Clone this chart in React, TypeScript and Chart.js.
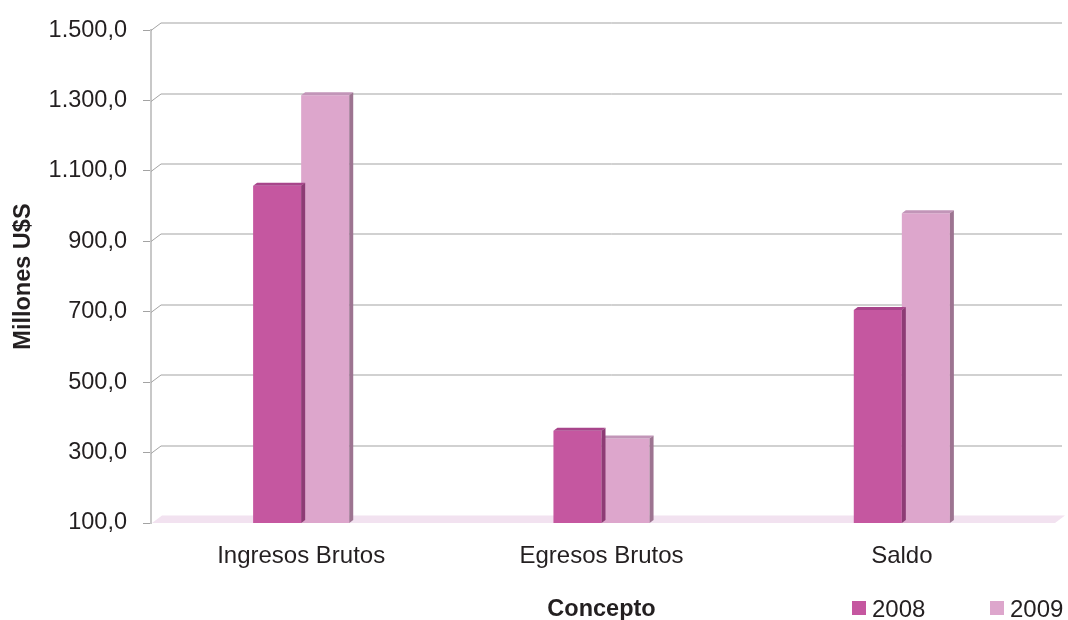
import React, { useEffect, useRef } from "react";
import { Chart, registerables } from "chart.js";

Chart.register(...registerables);

const categories = ["Ingresos Brutos", "Egresos Brutos", "Saldo"];
const seriesLabels = ["2008", "2009"];
const values2008 = [1058, 362, 705];
const values2009 = [1315, 340, 980];
const yMin = 100;
const yMax = 1500;
const yStep = 200;

const FONT = "'Liberation Sans', Arial, Helvetica, sans-serif";
const frontColors = ["#c557a0", "#dda6cc"];
const topColors = ["#a8458b", "#c295b8"];
const sideColors = ["#8d3c75", "#9d7491"];

const WALL_DX = 10;
const WALL_DY = 7.5;
const BAR_DX = 4;
const BAR_DY = 3;

function fmtNumber(v: number): string {
  const s = Math.round(v)
    .toString()
    .replace(/\B(?=(\d{3})+(?!\d))/g, ".");
  return s + ",0";
}

const wallPlugin = {
  id: "wall3d",
  beforeDatasetsDraw(chart: any) {
    const { ctx, chartArea: a, scales } = chart;
    const y = scales.y;
    ctx.save();
    // floor
    ctx.fillStyle = "#f2e2f0";
    ctx.beginPath();
    ctx.moveTo(a.left + 1, a.bottom);
    ctx.lineTo(a.right + 3, a.bottom);
    ctx.lineTo(a.right + 3 + WALL_DX, a.bottom - WALL_DY);
    ctx.lineTo(a.left + 1 + WALL_DX, a.bottom - WALL_DY);
    ctx.closePath();
    ctx.fill();
    // back wall grid lines
    ctx.strokeStyle = "#a3a3a3";
    ctx.lineWidth = 1;
    y.ticks.forEach((t: any) => {
      if (t.value === y.min) return;
      const py = Math.round(y.getPixelForValue(t.value)) + 0.5;
      ctx.beginPath();
      ctx.moveTo(a.left, py);
      ctx.lineTo(a.left + WALL_DX, py - WALL_DY);
      ctx.lineTo(a.right + WALL_DX, py - WALL_DY);
      ctx.stroke();
    });
    ctx.restore();
  },
  afterDatasetDraw(chart: any, args: any) {
    const ctx = chart.ctx;
    const idx = args.index;
    const bottom = chart.chartArea.bottom;
    ctx.save();
    args.meta.data.forEach((bar: any) => {
      const p = bar.getProps(["x", "y", "base", "width"], true);
      const x = p.x;
      const y = p.y;
      const width = p.width;
      const base = Math.min(p.base, bottom);
      const l = x - width / 2;
      const r = x + width / 2;
      ctx.fillStyle = topColors[idx];
      ctx.beginPath();
      ctx.moveTo(l, y);
      ctx.lineTo(l + BAR_DX, y - BAR_DY);
      ctx.lineTo(r + BAR_DX, y - BAR_DY);
      ctx.lineTo(r, y);
      ctx.closePath();
      ctx.fill();
      ctx.fillStyle = sideColors[idx];
      ctx.beginPath();
      ctx.moveTo(r, y);
      ctx.lineTo(r + BAR_DX, y - BAR_DY);
      ctx.lineTo(r + BAR_DX, base - BAR_DY);
      ctx.lineTo(r, base);
      ctx.closePath();
      ctx.fill();
    });
    ctx.restore();
  },
  afterDraw(chart: any) {
    const ctx = chart.ctx;
    const w = chart.width;
    const h = chart.height;
    const starts = [w - 216, w - 78];
    ctx.save();
    ctx.font = `24px ${FONT}`;
    ctx.textBaseline = "middle";
    ctx.textAlign = "left";
    chart.data.datasets.forEach((ds: any, i: number) => {
      const x0 = starts[i];
      const cy = h - 12;
      ctx.fillStyle = ds.backgroundColor;
      ctx.fillRect(x0, cy - 7, 14, 14);
      ctx.fillStyle = "#231f20";
      ctx.fillText(ds.label, x0 + 20, cy + 2);
    });
    ctx.restore();
  },
};

export default function App() {
  const ref = useRef<HTMLCanvasElement | null>(null);

  useEffect(() => {
    if (!ref.current) return;
    const chart = new Chart(ref.current, {
      type: "bar",
      data: {
        labels: categories,
        datasets: [
          {
            label: seriesLabels[0],
            data: values2008,
            backgroundColor: frontColors[0],
            categoryPercentage: 0.32,
            barPercentage: 1.0,
          },
          {
            label: seriesLabels[1],
            data: values2009,
            backgroundColor: frontColors[1],
            categoryPercentage: 0.32,
            barPercentage: 1.0,
          },
        ],
      },
      options: {
        responsive: true,
        maintainAspectRatio: false,
        animation: false,
        layout: { padding: { top: 26, right: 16, left: 0, bottom: 0 } },
        plugins: {
          legend: { display: false },
          tooltip: { enabled: false },
        },
        scales: {
          x: {
            grid: { display: false, drawTicks: false },
            border: { display: false },
            ticks: {
              font: { family: FONT, size: 24 },
              color: "#231f20",
              padding: 19,
            },
            title: {
              display: true,
              text: "Concepto",
              font: { family: FONT, size: 23.5, weight: "bold" },
              color: "#231f20",
              padding: { top: -4, bottom: -4 },
            },
            afterFit(scale: any) {
              scale.height = 97;
            },
          },
          y: {
            min: yMin,
            max: yMax,
            ticks: {
              stepSize: yStep,
              font: { family: FONT, size: 23.5 },
              color: "#231f20",
              padding: 16,
              callback: (v: any) => fmtNumber(Number(v)),
            },
            grid: {
              drawOnChartArea: false,
              drawTicks: true,
              tickLength: 8,
              color: "#a3a3a3",
            },
            border: { display: true, color: "#c8c8c8", width: 2 },
            title: {
              display: true,
              text: "Millones U$S",
              font: { family: FONT, size: 23.5, weight: "bold" },
              color: "#231f20",
              padding: { top: 9, bottom: 0 },
            },
            afterFit(scale: any) {
              scale.width = 151;
            },
          },
        },
      },
      plugins: [wallPlugin],
    });
    return () => chart.destroy();
  }, []);

  return (
    <div
      style={{
        position: "fixed",
        left: 0,
        top: 0,
        width: 1068,
        height: 620,
        background: "#ffffff",
      }}
    >
      <canvas ref={ref} />
    </div>
  );
}
